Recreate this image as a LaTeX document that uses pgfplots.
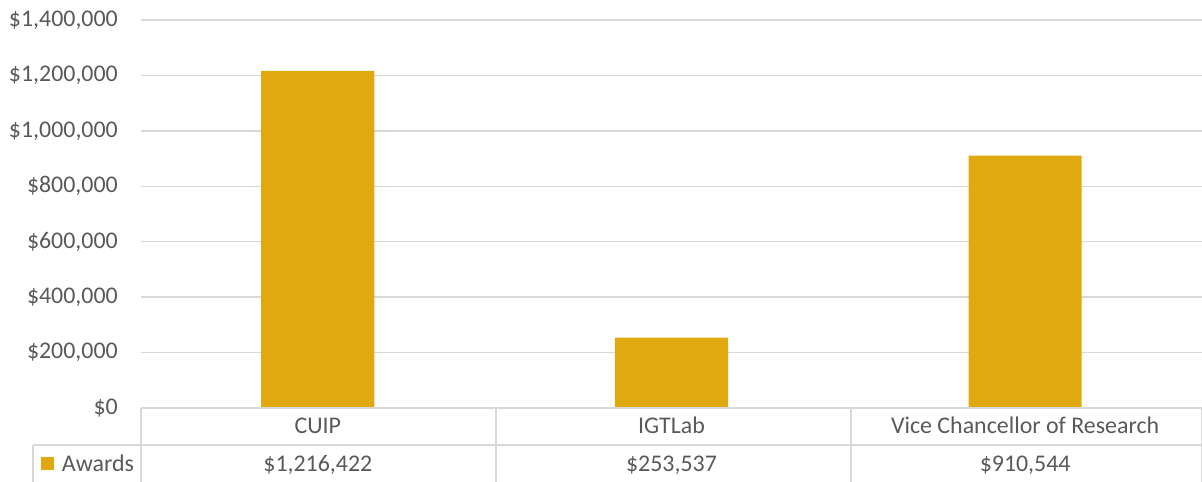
\documentclass[border=0pt]{standalone}
\usepackage{pgfplots}
\pgfplotsset{compat=1.18}
\usepackage{fontspec}
\setmainfont{Carlito}

\definecolor{bargold}{RGB}{224,169,15}
\definecolor{txtgray}{RGB}{89,89,89}
\definecolor{gridgray}{RGB}{217,217,217}

\newcommand{\lblfont}{\fontsize{24}{28}\selectfont}

\begin{document}
\begin{tikzpicture}[x=1bp,y=1bp]
\useasboundingbox (0,0) rectangle (1202,482);
\begin{axis}[
    at={(141bp,74bp)}, anchor=south west,
    scale only axis, width=1061bp, height=388bp,
    xmin=-0.5, xmax=2.5,
    ymin=0, ymax=1400000,
    ytick={0,200000,400000,600000,800000,1000000,1200000,1400000},
    scaled y ticks=false,
    yticklabel={\$\pgfmathprintnumber[fixed,precision=0,1000 sep={,}]{\tick}},
    xtick={0,1,2},
    xticklabels={CUIP,IGTLab,Vice Chancellor of Research},
    major tick length=0pt,
    axis line style={draw=none},
    ymajorgrids,
    grid style={gridgray, line width=1.4bp},
    tick label style={font=\lblfont, text=txtgray},
    /pgf/number format/assume math mode=true,
    yticklabel style={anchor=east, inner sep=0pt, xshift=-23bp},
    xticklabel style={anchor=base, inner sep=0pt, yshift=-26bp},
    ybar, bar width=0.32,
    clip=false,
    legend style={at={(axis description cs:-0.0943,-0.144)}, anchor=west,
        draw=none, fill=none, inner sep=0pt, outer sep=0pt,
        font=\lblfont, text=txtgray,
        /tikz/every odd column/.append style={column sep=6bp}},
    legend image code/.code={\fill[bargold] (0bp,-6.5bp) rectangle (13bp,6.5bp);},
]
\addplot[fill=bargold, draw=none] coordinates {(0,1216422) (1,253537) (2,910544)};
\addlegendentry{Awards}

\node[anchor=base, font=\lblfont, text=txtgray, yshift=-64bp] at (axis cs:0,0) {\$1,216,422};
\node[anchor=base, font=\lblfont, text=txtgray, yshift=-64bp] at (axis cs:1,0) {\$253,537};
\node[anchor=base, font=\lblfont, text=txtgray, yshift=-64bp] at (axis cs:2,0) {\$910,544};
\end{axis}

% data table grid
\begin{scope}[gridgray, line width=1.4bp]
\draw (141,74) -- (1202,74);
\draw (33,37) -- (1202,37);
\draw (33,37) -- (33,0);
\draw (141,74) -- (141,0);
\draw (496,74) -- (496,0);
\draw (851,74) -- (851,0);
\draw (1201.3,74) -- (1201.3,0);
\end{scope}
\end{tikzpicture}
\end{document}
